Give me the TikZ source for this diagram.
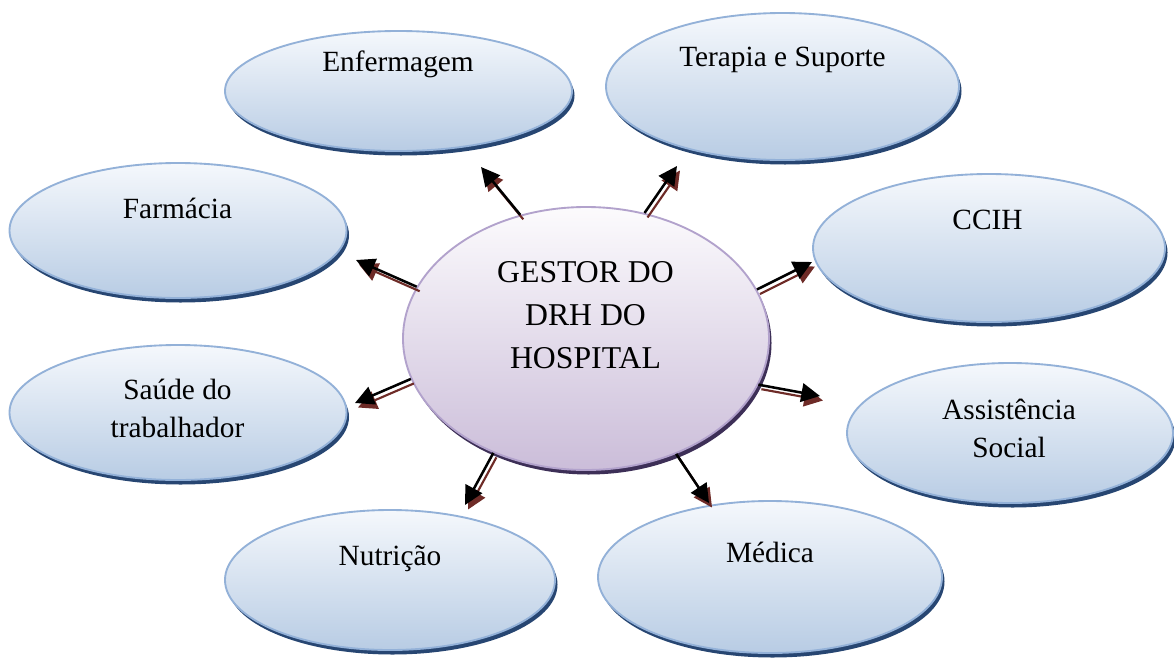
\documentclass[tikz,border=0pt]{standalone}
\usepackage{fontspec}
\setmainfont{Liberation Serif}
\usetikzlibrary{shapes.geometric,arrows.meta,calc}

\definecolor{bubtop}{HTML}{F5F8FC}
\definecolor{bubbottom}{HTML}{B8CCE4}
\definecolor{bubborder}{HTML}{93B1D8}
\definecolor{bubshadow}{HTML}{274672}
\definecolor{hubtop}{HTML}{FCFBFD}
\definecolor{hubbottom}{HTML}{CBBDD9}
\definecolor{hubborder}{HTML}{B2A2CC}
\definecolor{hubshadow}{HTML}{3D2F57}
\definecolor{spokebrown}{HTML}{6E2B27}

\tikzset{
  bub/.style={ellipse, draw=bubborder, line width=1.4pt, inner sep=0pt,
    top color=bubtop, bottom color=bubbottom},
  hub/.style={ellipse, draw=hubborder, line width=1.4pt, inner sep=0pt,
    top color=hubtop, bottom color=hubbottom},
  lbl/.style={font=\fontsize{22pt}{28.5pt}\selectfont, align=center, anchor=base, inner sep=0pt},
  hublbl/.style={font=\fontsize{23.8pt}{32pt}\selectfont, align=center, anchor=base, inner sep=0pt},
  spokeline/.style={line width=1.9pt, black, -{Triangle[length=14pt,width=14pt]}},
  spokeshadow/.style={line width=1.6pt, spokebrown, -{Triangle[length=14pt,width=14pt]}},
}

% an ellipse with its dark drop shadow: name, centre, x radius, y radius, style
\newcommand\bubbleat[5]{%
  \fill[#5shadow] ($(#2)+(2.5,4.5)$) ellipse [x radius=#3, y radius=#4];
  \node[#5, minimum width={2*#3*0.75pt}, minimum height={2*#4*0.75pt}] (#1) at (#2) {};
}
% a double arrow (brown shadow under black) from the hub to a free end
\newcommand\spoke[2]{%
  \draw[spokeshadow] ($(#1)+(3,4.5)$) -- ($(#2)+(3,4.5)$);
  \draw[spokeline] (#1) -- (#2);
}

\begin{document}
\begin{tikzpicture}[x=0.75pt, y=-0.75pt]
\fill[white] (0,0) rectangle (1174,657);
\useasboundingbox (0,0) rectangle (1174,657);

% outer departments
\bubbleat{enf}{398.5,91}{173.5}{60}{bub}
\bubbleat{ter}{782.5,86.5}{176.5}{73.5}{bub}
\bubbleat{farm}{178,230.5}{168.5}{67.5}{bub}
\bubbleat{ccih}{989,248}{176}{74}{bub}
\bubbleat{saude}{178,412.5}{168.5}{67.5}{bub}
\bubbleat{assist}{1010,433}{163}{70}{bub}
\bubbleat{nutr}{390,580}{165}{70}{bub}
\bubbleat{med}{770,577}{172}{76}{bub}

% central manager
\bubbleat{centre}{586,338.5}{183}{131.5}{hub}

% labels (multi-line ones are placed by their last baseline)
\node[lbl] (enf-t) at (398,71.5) {Enfermagem};
\node[lbl] (ter-t) at (782.5,66.5) {Terapia e Suporte};
\node[lbl] (farm-t) at (177.5,218) {Farmácia};
\node[lbl] (ccih-t) at (987.5,229) {CCIH};
\node[lbl] (saude-t) at (177.5,437) {Saúde do\\trabalhador};
\node[lbl] (assist-t) at (1009,457.5) {Assistência\\Social};
\node[lbl] (nutr-t) at (390,565) {Nutrição};
\node[lbl] (med-t) at (770,562) {Médica};
\node[hublbl] (centre-t) at (585.5,368) {GESTOR DO\\DRH DO\\HOSPITAL};

% arrow tips
\coordinate (enf-a) at (481,167);
\coordinate (ter-a) at (677,166);
\coordinate (farm-a) at (356,260);
\coordinate (ccih-a) at (812,262);
\coordinate (saude-a) at (355,403);
\coordinate (assist-a) at (820,396);
\coordinate (nutr-a) at (465,505);
\coordinate (med-a) at (709,503);

\spoke{centre.118.7}{enf-a}
\spoke{centre.65.6}{ter-a}
\spoke{centre.163.6}{farm-a}
\spoke{centre.16}{ccih-a}
\spoke{centre.193.5}{saude-a}
\spoke{centre.-15}{assist-a}
\spoke{centre.231.5}{nutr-a}
\spoke{centre.-52}{med-a}
\end{tikzpicture}
\end{document}
